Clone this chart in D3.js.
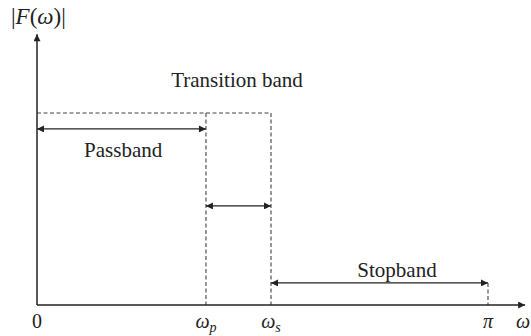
<!DOCTYPE html>
<html>
<head>
<meta charset="utf-8">
<script src="https://cdn.jsdelivr.net/npm/d3@7"></script>
<style>
  body { margin: 0; background: #fff; }
  svg text { font-family: "Liberation Serif", "Times New Roman", Times, "DejaVu Serif", serif; fill: #222; }
</style>
</head>
<body>
<svg id="chart"></svg>
<script>
(function(){
	'use strict';

	// frequencies (radians) of the band edges
	var freqNames = ["0", "p", "s", "pi"];
	var freqValues = [0, 1.177, 1.630, Math.PI];
	var axisEnd = [3.40, 1.41];   // x (rad), y (|F|) where the axis arrows stop

	// ideal response level and the band arrows
	var passLevel = [1];
	var bandNames = ["Passband", "Transition band", "Stopband"];
	var bandFrom = [0, 1.177, 1.630];
	var bandTo = [1.177, 1.630, Math.PI];
	var bandArrowY = [0.917, 0.516, 0.115];
	var bandLabelX = [0.60, 1.393, 2.508];
	var bandLabelY = [0.771, 1.135, 0.146];

	var width = 531, height = 336;
	var svg = d3.select("#chart").attr("width", width).attr("height", height);

	var x = d3.scaleLinear().domain([0, Math.PI]).range([37, 488]);
	var y = d3.scaleLinear().domain([0, 1]).range([305, 113]);

	var defs = svg.append("defs");
	function marker(id, orient){
		defs.append("marker")
			.attr("id", id)
			.attr("viewBox", "0 0 10 10")
			.attr("refX", 10).attr("refY", 5)
			.attr("markerWidth", 9).attr("markerHeight", 7)
			.attr("markerUnits", "userSpaceOnUse")
			.attr("orient", orient)
			.append("path").attr("d", "M0,0 L10,5 L0,10 z").attr("fill", "#222");
	}
	marker("arr", "auto");
	marker("arrStart", "auto-start-reverse");

	// dashed ideal response box
	var dash = svg.append("g")
		.attr("stroke", "#444").attr("stroke-width", 1.1).attr("stroke-dasharray", "4,2.5").attr("fill", "none");

	dash.append("line")
		.attr("x1", x(freqValues[0])).attr("x2", x(freqValues[2]))
		.attr("y1", y(passLevel[0])).attr("y2", y(passLevel[0]));
	dash.selectAll(".vline")
		.data([1, 2])
		.enter().append("line")
		.attr("x1", function(i){ return x(freqValues[i]); })
		.attr("x2", function(i){ return x(freqValues[i]); })
		.attr("y1", y(passLevel[0])).attr("y2", y(0));
	dash.append("line")
		.attr("x1", x(freqValues[3])).attr("x2", x(freqValues[3]))
		.attr("y1", y(bandArrowY[2])).attr("y2", y(0));

	// axes
	var axes = svg.append("g").attr("stroke", "#222").attr("stroke-width", 1.5);
	axes.append("line")
		.attr("x1", x(0)).attr("y1", y(0))
		.attr("x2", x(axisEnd[0])).attr("y2", y(0))
		.attr("marker-end", "url(#arr)");
	axes.append("line")
		.attr("x1", x(0)).attr("y1", y(0))
		.attr("x2", x(0)).attr("y2", y(axisEnd[1]))
		.attr("marker-end", "url(#arr)");

	// band arrows
	svg.append("g").selectAll("line")
		.data(bandNames)
		.enter().append("line")
		.attr("stroke", "#222").attr("stroke-width", 1.3)
		.attr("x1", function(d, i){ return x(bandFrom[i]); })
		.attr("x2", function(d, i){ return x(bandTo[i]); })
		.attr("y1", function(d, i){ return y(bandArrowY[i]); })
		.attr("y2", function(d, i){ return y(bandArrowY[i]); })
		.attr("marker-start", "url(#arrStart)")
		.attr("marker-end", "url(#arr)");

	svg.append("g").selectAll("text")
		.data(bandNames)
		.enter().append("text")
		.attr("x", function(d, i){ return x(bandLabelX[i]); })
		.attr("y", function(d, i){ return y(bandLabelY[i]); })
		.attr("text-anchor", "middle")
		.style("font-size", "21px")
		.text(function(d){ return d; });

	// tick labels
	var ticks = svg.append("g").style("font-size", "20px");
	freqNames.forEach(function(n, i){
		var t = ticks.append("text")
			.attr("x", x(freqValues[i]))
			.attr("y", 328)
			.attr("text-anchor", "middle");
		if (n == "0") t.text("0");
		else if (n == "pi") t.append("tspan").style("font-style", "italic").text("\u03c0");
		else {
			t.append("tspan").style("font-style", "italic").text("\u03c9");
			t.append("tspan").style("font-style", "italic").style("font-size", "14px").attr("dy", 4).text(n);
		}
	});
	ticks.append("text")
		.attr("x", 516).attr("y", 328)
		.style("font-style", "italic")
		.text("\u03c9");

	// y label
	var yl = svg.append("text").attr("x", 11).attr("y", 24).style("font-size", "23px");
	yl.append("tspan").text("|");
	yl.append("tspan").style("font-style", "italic").text("F");
	yl.append("tspan").text("(");
	yl.append("tspan").style("font-style", "italic").text("\u03c9");
	yl.append("tspan").text(")|");
})();
</script>
</body>
</html>
